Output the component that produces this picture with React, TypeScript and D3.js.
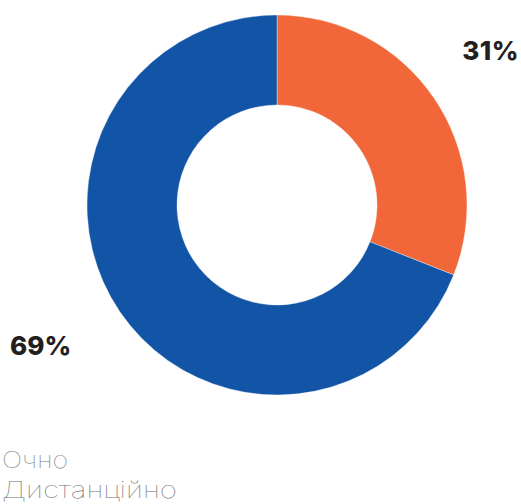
import React from "react";
import * as d3 from "d3";

const categories = ["Очно", "Дистанційно"];
const values = [31, 69];
const labels = ["31%", "69%"];
const colors = ["#F26739", "#1254A5"];
const legendWidths = [66, 175];

export default function App() {
  const width = 521;
  const height = 504;
  const cx = 277;
  const cy = 205;
  const outerR = 190;
  const innerR = 100;

  const pie = d3.pie<number>().sort(null).value((d) => d);
  const arcs = pie(values);
  const arcGen = d3.arc<d3.PieArcDatum<number>>().innerRadius(innerR).outerRadius(outerR);

  return (
    <svg
      width={width}
      height={height}
      style={{ position: "absolute", left: 0, top: 0, background: "#fff" }}
    >
      <g transform={`translate(${cx},${cy})`}>
        {arcs.map((a, i) => (
          <path key={i} d={arcGen(a) || ""} fill={colors[i]} stroke="#ffffff" strokeWidth={0.6} strokeOpacity={0.6} />
        ))}
      </g>
      <text
        x={519}
        y={60}
        textAnchor="end"
        fontFamily="Inter, 'Open Sans', sans-serif"
        fontWeight={800}
        fontSize={26}
        letterSpacing={0.5}
        fill="#231F20"
      >
        {labels[0]}
      </text>
      <text
        x={10}
        y={355}
        textAnchor="start"
        fontFamily="Inter, 'Open Sans', sans-serif"
        fontWeight={800}
        fontSize={26}
        fill="#231F20"
      >
        {labels[1]}
      </text>
      {categories.map((c, i) => (
        <text
          key={c}
          x={2}
          y={468 + i * 30}
          fontFamily="Inter, Lato, sans-serif"
          fontWeight={100}
          fontSize={23}
          textLength={legendWidths[i]}
          lengthAdjust="spacingAndGlyphs"
          fill="#6E6E6E"
        >
          {c}
        </text>
      ))}
    </svg>
  );
}
